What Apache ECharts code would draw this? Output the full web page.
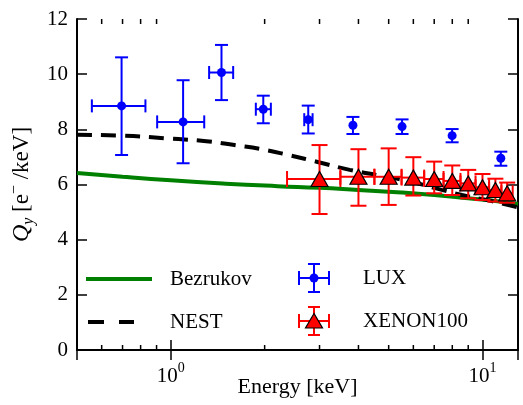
<!DOCTYPE html>
<html>
<head>
<meta charset="utf-8">
<script src="https://cdn.jsdelivr.net/npm/echarts@6/dist/echarts.min.js"></script>
<style>html,body{margin:0;padding:0;background:#fff}#c{width:523px;height:405px}</style>
</head>
<body>
<div id="c"></div>
<script>
// ---- data ----
const bezE = [0.5, 0.7, 1.0, 1.5, 2.2, 3.0, 4.0, 5.5, 7.0, 9.0, 11.0, 13.0];
const bezQ = [6.42, 6.28, 6.15, 6.03, 5.94, 5.88, 5.8, 5.71, 5.62, 5.5, 5.4, 5.29];
const nestE = [0.5, 0.7, 1.0, 1.3, 1.6, 2.0, 2.4, 3.0, 3.75, 4.7, 5.9, 7.1, 8.6, 10.7, 13.0];
const nestQ = [7.8, 7.77, 7.66, 7.57, 7.43, 7.26, 7.06, 6.8, 6.53, 6.32, 6.1, 5.86, 5.62, 5.4, 5.17];
// LUX: energy, Qy, x-low, x-high, y-low, y-high
const luxE  = [0.695, 1.095, 1.454, 1.98, 2.76, 3.84, 5.52, 7.99, 11.45];
const luxQ  = [8.85, 8.27, 10.06, 8.73, 8.35, 8.15, 8.10, 7.77, 6.95];
const luxXlo = [0.558, 0.904, 1.327, 1.874, 2.68, null, null, null, null];
const luxXhi = [0.829, 1.28, 1.585, 2.094, 2.85, null, null, null, null];
const luxYlo = [7.07, 6.77, 9.06, 8.22, 7.85, 7.83, 7.83, 7.53, 6.68];
const luxYhi = [10.61, 9.78, 11.06, 9.22, 8.86, 8.45, 8.36, 8.01, 7.19];
// XENON100
const xeE  = [3, 4, 5, 6, 7, 8, 9, 10, 11, 12];
const xeQ  = [6.2, 6.28, 6.28, 6.25, 6.2, 6.13, 6.04, 5.9, 5.8, 5.68];
const xeXlo = [2.36, 3.5, 4.5, 5.5, 6.5, 7.5, 8.5, 9.5, 10.5, 11.5];
const xeXhi = [3.5, 4.5, 5.5, 6.5, 7.5, 8.5, 9.5, 10.5, 11.5, 12.5];
const xeYlo = [4.93, 5.23, 5.26, 5.6, 5.68, 5.62, 5.5, 5.44, 5.38, 5.34];
const xeYhi = [7.43, 7.28, 7.31, 6.99, 6.83, 6.69, 6.53, 6.38, 6.21, 6.07];
// axes
const xMin = 0.5, xMax = 13, yMin = 0, yMax = 12, yStep = 2;
const xMinorTicks = [0.6, 0.7, 0.8, 0.9, 2, 3, 4, 5, 6, 7, 8, 9];

const FONT = "'Liberation Serif', 'Times New Roman', serif";
const zip = (a, b) => a.map((v, i) => [v, b[i]]);

function errData(E, Q, xl, xh, yl, yh) {
  return E.map((e, i) => [e, Q[i], xl[i] == null ? e : xl[i], xh[i] == null ? e : xh[i], yl[i], yh[i], xl[i] == null ? 0 : 1]);
}
function errRender(color, capHalf) {
  return function (params, api) {
    const x = api.value(0), y = api.value(1);
    const xl = api.value(2), xh = api.value(3), yl = api.value(4), yh = api.value(5), hasX = api.value(6);
    const pLo = api.coord([x, yl]), pHi = api.coord([x, yh]);
    const st = { stroke: color, lineWidth: 2 };
    const ch = [
      { type: 'line', shape: { x1: pLo[0], y1: pLo[1], x2: pHi[0], y2: pHi[1] }, style: st },
      { type: 'line', shape: { x1: pLo[0] - capHalf, y1: pLo[1], x2: pLo[0] + capHalf, y2: pLo[1] }, style: st },
      { type: 'line', shape: { x1: pHi[0] - capHalf, y1: pHi[1], x2: pHi[0] + capHalf, y2: pHi[1] }, style: st }
    ];
    if (hasX) {
      const qL = api.coord([xl, y]), qR = api.coord([xh, y]);
      ch.push({ type: 'line', shape: { x1: qL[0], y1: qL[1], x2: qR[0], y2: qR[1] }, style: st });
      ch.push({ type: 'line', shape: { x1: qL[0], y1: qL[1] - capHalf, x2: qL[0], y2: qL[1] + capHalf }, style: st });
      ch.push({ type: 'line', shape: { x1: qR[0], y1: qR[1] - capHalf, x2: qR[0], y2: qR[1] + capHalf }, style: st });
    }
    return { type: 'group', children: ch };
  };
}

function toIcon(svg) { return 'image://data:image/svg+xml;charset=utf-8,' + encodeURIComponent(svg); }
function errIcon(color, marker) {
  return toIcon("<svg xmlns='http://www.w3.org/2000/svg' width='32' height='30'>" +
    "<g stroke='" + color + "' stroke-width='2' fill='none'>" +
    "<line x1='1' y1='15' x2='31' y2='15'/><line x1='1' y1='8' x2='1' y2='22'/><line x1='31' y1='8' x2='31' y2='22'/>" +
    "<line x1='16' y1='1' x2='16' y2='29'/><line x1='10' y1='1' x2='22' y2='1'/><line x1='10' y1='29' x2='22' y2='29'/></g>" +
    marker + "</svg>");
}
const luxIcon = errIcon('#0000ff', "<circle cx='16' cy='15' r='4.5' fill='#0000ff'/>");
const xeIcon = errIcon('#ff0000', "<polygon points='16,7.5 7.5,22 24.5,22' fill='#ff0000' stroke='#000' stroke-width='1.2'/>");
const bezIcon = toIcon("<svg xmlns='http://www.w3.org/2000/svg' width='66' height='22'><line x1='0' y1='11' x2='66' y2='11' stroke='#008000' stroke-width='4'/></svg>");
const nestIcon = toIcon("<svg xmlns='http://www.w3.org/2000/svg' width='66' height='22'><g stroke='#000' stroke-width='4'><line x1='2' y1='11' x2='18' y2='11'/><line x1='33' y1='11' x2='48' y2='11'/></g></svg>");

const isPow10 = v => Math.abs(Math.log10(v) - Math.round(Math.log10(v))) < 1e-6;

const chart = echarts.init(document.getElementById('c'), null, { renderer: 'canvas' });
const axisLineStyle = { color: '#000', width: 2 };
const option = {
  backgroundColor: '#fff',
  animation: false,
  textStyle: { fontFamily: FONT, color: '#000' },
  grid: { left: 77, right: 5, top: 19, bottom: 55, containLabel: false, outerBoundsMode: 'none' },
  legend: [
    {
      data: [{ name: 'Bezrukov', icon: bezIcon }, { name: 'NEST', icon: nestIcon }],
      orient: 'vertical', left: 86, top: 268, padding: 0,
      itemWidth: 66, itemHeight: 22, itemGap: 21,
      textStyle: { fontFamily: FONT, fontSize: 21, color: '#000', padding: [0, 0, 0, 13] },
      selectedMode: false
    },
    {
      data: [{ name: 'LUX', icon: luxIcon }, { name: 'XENON100', icon: xeIcon }],
      orient: 'vertical', left: 298, top: 263, padding: 0,
      itemWidth: 32, itemHeight: 30, itemGap: 13,
      textStyle: { fontFamily: FONT, fontSize: 21, color: '#000', padding: [0, 0, 0, 28] },
      selectedMode: false
    }
  ],
  xAxis: [
    {
      type: 'log', logBase: 10, min: xMin, max: xMax,
      name: 'Energy [keV]', nameLocation: 'middle', nameGap: 26, nameMoveOverlap: false,
      nameTextStyle: { fontFamily: FONT, fontSize: 22, color: '#000' },
      axisLine: { lineStyle: axisLineStyle },
      axisTick: { inside: true, length: 10, lineStyle: { color: '#000', width: 1.5 } },
      axisLabel: {
        margin: 11,
        formatter: v => isPow10(v) ? '{b|10}{s|' + Math.round(Math.log10(v)) + '}' : '',
        rich: {
          b: { fontFamily: FONT, fontSize: 21, color: '#000', lineHeight: 26, verticalAlign: 'bottom' },
          s: { fontFamily: FONT, fontSize: 14, color: '#000', lineHeight: 26, verticalAlign: 'top' }
        }
      },
      splitLine: { show: false }, minorTick: { show: false }
    },
    {
      type: 'log', logBase: 10, min: xMin, max: xMax, position: 'top',
      axisLine: { lineStyle: axisLineStyle },
      axisTick: { inside: true, length: 10, lineStyle: { color: '#000', width: 1.5 } },
      axisLabel: { show: false }, splitLine: { show: false }
    }
  ],
  yAxis: [
    {
      type: 'value', min: yMin, max: yMax, interval: yStep,
      name: '{q|Q}{s|y} [e{p|−} /keV]', nameLocation: 'middle', nameGap: 40, nameMoveOverlap: false,
      nameTextStyle: {
        fontFamily: FONT, fontSize: 23, color: '#000',
        rich: {
          q: { fontFamily: FONT, fontSize: 24, fontStyle: 'italic', color: '#000', lineHeight: 30, verticalAlign: 'middle' },
          s: { fontFamily: FONT, fontSize: 16, fontStyle: 'italic', color: '#000', lineHeight: 30, verticalAlign: 'bottom' },
          p: { fontFamily: FONT, fontSize: 16, color: '#000', lineHeight: 30, verticalAlign: 'top' }
        }
      },
      axisLine: { lineStyle: axisLineStyle },
      axisTick: { inside: true, length: 10, lineStyle: { color: '#000', width: 1.5 } },
      axisLabel: { margin: 9, fontFamily: FONT, fontSize: 21, color: '#000' },
      splitLine: { show: false }
    },
    {
      type: 'value', min: yMin, max: yMax, interval: yStep, position: 'right',
      axisLine: { lineStyle: axisLineStyle },
      axisTick: { inside: true, length: 10, lineStyle: { color: '#000', width: 1.5 } },
      axisLabel: { show: false }, splitLine: { show: false }
    }
  ],
  series: [
    {
      name: 'Bezrukov', type: 'line', data: zip(bezE, bezQ), symbol: 'none', smooth: true,
      lineStyle: { color: '#008000', width: 4 }, itemStyle: { color: '#008000' }, z: 2
    },
    {
      name: 'NEST', type: 'line', data: zip(nestE, nestQ), symbol: 'none', smooth: true,
      lineStyle: { color: '#000', width: 4, type: [15, 9] }, itemStyle: { color: '#000' }, z: 3
    },
    {
      name: 'LUXerr', type: 'custom', renderItem: errRender('#0000ff', 6.5),
      data: errData(luxE, luxQ, luxXlo, luxXhi, luxYlo, luxYhi), encode: { x: 0, y: 1 }, z: 4, silent: true
    },
    {
      name: 'LUX', type: 'scatter', data: zip(luxE, luxQ), symbol: 'circle', symbolSize: 9,
      itemStyle: { color: '#0000ff', opacity: 1 }, z: 5
    },
    {
      name: 'XEerr', type: 'custom', renderItem: errRender('#ff0000', 8),
      data: errData(xeE, xeQ, xeXlo, xeXhi, xeYlo, xeYhi), encode: { x: 0, y: 1 }, z: 6, silent: true
    },
    {
      name: 'XENON100', type: 'scatter', data: zip(xeE, xeQ), symbol: 'triangle', symbolSize: [17, 15],
      itemStyle: { color: '#ff0000', borderColor: '#000', borderWidth: 1.2, opacity: 1 }, z: 7
    },
    {
      name: 'minorTicks', type: 'custom', silent: true, z: 10,
      data: xMinorTicks.map(v => [v, yMin]), encode: { x: 0, y: 1 },
      renderItem: function (params, api) {
        const v = api.value(0);
        const b = api.coord([v, yMin]), t = api.coord([v, yMax]);
        const st = { stroke: '#000', lineWidth: 1.5 };
        return { type: 'group', children: [
          { type: 'line', shape: { x1: b[0], y1: b[1], x2: b[0], y2: b[1] - 5 }, style: st },
          { type: 'line', shape: { x1: t[0], y1: t[1], x2: t[0], y2: t[1] + 5 }, style: st }
        ] };
      }
    }
  ]
};
chart.setOption(option);
</script>
</body>
</html>
